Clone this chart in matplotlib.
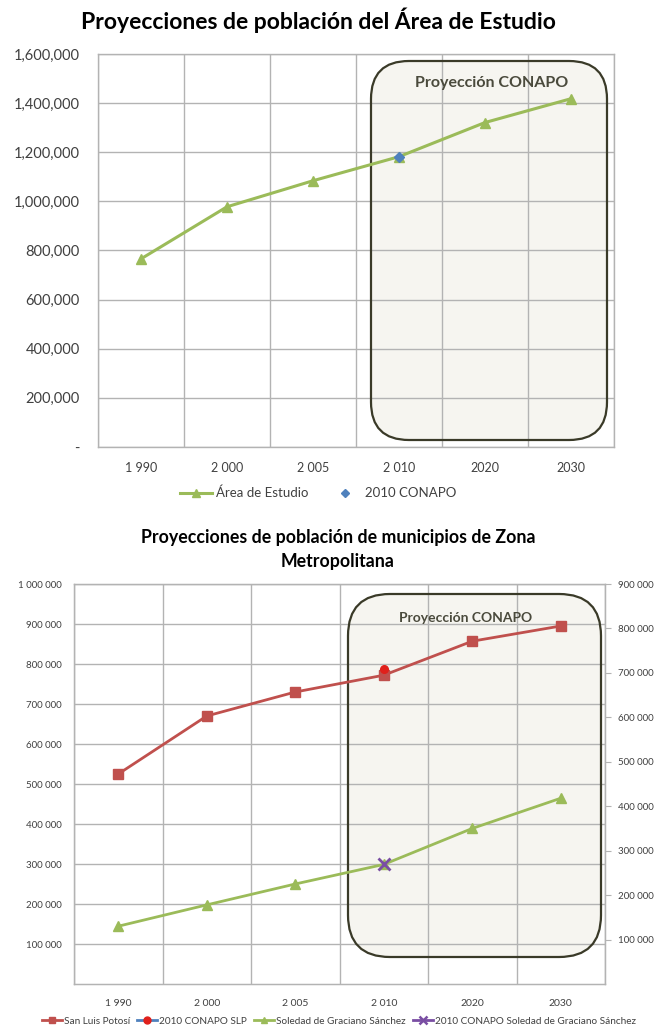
import matplotlib
matplotlib.use("Agg")
import matplotlib.pyplot as plt
from matplotlib.patches import FancyBboxPatch
from matplotlib.ticker import FuncFormatter, FixedLocator
from matplotlib.lines import Line2D

plt.rcParams['font.family'] = ['Lato', 'DejaVu Sans']

# ---- data: study area ----
years_top = ["1 990", "2 000", "2 005", "2 010", "2020", "2030"]
area_estudio = [766000, 978000, 1084000, 1182000, 1321000, 1418000]
conapo_2010_area = 1181000

# ---- data: metropolitan municipalities ----
years_bot = ["1 990", "2 000", "2 005", "2 010", "2020", "2030"]
san_luis = [525000, 670000, 730000, 772000, 857000, 895000]
conapo_2010_slp = 787000
soledad = [130000, 178000, 225000, 269000, 350000, 418000]
conapo_2010_soledad = 269000

GREEN = "#9bbb59"
RED = "#c0504d"
BLUE = "#4f81bd"
PURPLE = "#7a4ea3"
GRID = "#b3b3b3"
TXT = "#404040"
BOX_FILL = "#f6f5f0"
BOX_EDGE = "#3a3a28"

W, H = 654, 1029
fig = plt.figure(figsize=(W / 100, H / 100), dpi=100)


def ax_rect(left, top, right, bottom):
    return [left / W, 1 - bottom / H, (right - left) / W, (bottom - top) / H]


def rounded_box(ax, left, top, right, bottom, radius):
    # box drawn in inches so the corners stay circular
    x0, x1 = left / 100, right / 100
    y0, y1 = (H - bottom) / 100, (H - top) / 100
    fill = FancyBboxPatch((x0, y0), x1 - x0, y1 - y0,
                          boxstyle=f"round,pad=0,rounding_size={radius}",
                          transform=fig.dpi_scale_trans, facecolor=BOX_FILL,
                          edgecolor="none", zorder=0.3, clip_on=False)
    edge = FancyBboxPatch((x0, y0), x1 - x0, y1 - y0,
                          boxstyle=f"round,pad=0,rounding_size={radius}",
                          transform=fig.dpi_scale_trans, facecolor="none",
                          edgecolor=BOX_EDGE, linewidth=1.6, zorder=1.8,
                          clip_on=False)
    ax.add_patch(fill)
    ax.add_patch(edge)


def style_axes(ax, n):
    ax.set_xlim(-0.5, n - 0.5)
    ax.xaxis.set_major_locator(FixedLocator(range(n)))
    ax.xaxis.set_minor_locator(FixedLocator([i + 0.5 for i in range(-1, n)]))
    ax.grid(True, which="minor", axis="x", color=GRID, linewidth=1.0)
    ax.grid(True, which="major", axis="y", color=GRID, linewidth=1.0)
    ax.tick_params(axis="x", which="both", length=0)
    ax.tick_params(axis="y", length=0)
    for s in ax.spines.values():
        s.set_color(GRID)
        s.set_linewidth(1.0)


# ================= top chart =================
ax1 = fig.add_axes(ax_rect(98, 54, 614, 447))
n = len(years_top)
x = list(range(n))
style_axes(ax1, n)
ax1.set_ylim(0, 1600000)
ax1.set_yticks(range(0, 1600001, 200000))
ax1.yaxis.set_major_formatter(FuncFormatter(lambda v, p: "-" if v == 0 else f"{int(v):,}"))
ax1.set_xticks(x)
ax1.set_xticklabels(years_top)
ax1.tick_params(axis="y", labelsize=10.5, labelcolor=TXT, pad=13)
ax1.tick_params(axis="x", labelsize=9, labelcolor=TXT, pad=11)

rounded_box(ax1, 371, 61, 607, 440, 0.38)
ax1.text(492 / W, 1 - 83 / H, "Proyección CONAPO", transform=fig.transFigure,
         ha="center", va="center", fontsize=11.5, fontweight="bold", color="#4a4a3c")

ax1.plot(x, area_estudio, color=GREEN, linewidth=2.2, marker="^", markersize=7,
         zorder=3, label="Área de Estudio")
ax1.plot([3], [conapo_2010_area], linestyle="none", marker="D", markersize=5.5,
         color=BLUE, zorder=4, label="2010 CONAPO")

fig.text(318 / W, 1 - 20 / H, "Proyecciones de población del Área de Estudio",
         ha="center", va="center", fontsize=16.5, fontweight="bold", color="black")

fig.legend(handles=[
    Line2D([], [], color=GREEN, linewidth=2.2, marker="^", markersize=6),
    Line2D([], [], color=BLUE, linestyle="none", marker="D", markersize=4.5)],
    labels=["Área de Estudio", "2010 CONAPO"], loc="center",
    bbox_to_anchor=(318 / W, 1 - 493 / H), ncol=2, frameon=False,
    fontsize=9.5, labelcolor=TXT, handlelength=2.4, columnspacing=1.6,
    handletextpad=0.3)

# ================= bottom chart =================
ax2 = fig.add_axes(ax_rect(74, 584, 605, 984))
n2 = len(years_bot)
x2 = list(range(n2))
style_axes(ax2, n2)
ax2.set_ylim(0, 1000000)
ax2.set_yticks(range(100000, 1000001, 100000))
ax2.yaxis.set_major_formatter(FuncFormatter(lambda v, p: f"{int(v):,}".replace(",", " ")))
ax2.set_xticks(x2)
ax2.set_xticklabels(years_bot)
ax2.tick_params(axis="y", labelsize=7, labelcolor=TXT, pad=9)
ax2.tick_params(axis="x", labelsize=7.5, labelcolor=TXT, pad=11)

ax3 = ax2.twinx()
ax3.set_ylim(0, 900000)
ax3.set_yticks(range(100000, 900001, 100000))
ax3.yaxis.set_major_formatter(FuncFormatter(lambda v, p: f"{int(v):,}".replace(",", " ")))
ax3.tick_params(axis="y", labelsize=7, labelcolor=TXT, length=4, color=GRID, pad=5)
for s in ax3.spines.values():
    s.set_color(GRID)

rounded_box(ax2, 348, 594, 601, 957, 0.42)
fig.text(466 / W, 1 - 618 / H, "Proyección CONAPO", ha="center", va="center",
         fontsize=10, fontweight="bold", color="#4a4a3c", zorder=5)

ax2.plot(x2, san_luis, color=RED, linewidth=2.0, marker="s", markersize=6.5, zorder=3)
ax2.plot([3], [conapo_2010_slp], color=BLUE, marker="o", markersize=5.5,
         markerfacecolor="#e0201b", markeredgecolor="#e0201b", zorder=4)
ax3.plot(x2, soledad, color=GREEN, linewidth=2.0, marker="^", markersize=6.5, zorder=3)
ax3.plot([3], [conapo_2010_soledad], color=PURPLE, marker="x", markersize=8,
         markeredgewidth=2, zorder=4)

fig.text(338 / W, 1 - 537 / H, "Proyecciones de población de municipios de Zona",
         ha="center", va="center", fontsize=12.8, fontweight="bold", color="black")
fig.text(338 / W, 1 - 561 / H, "Metropolitana",
         ha="center", va="center", fontsize=12.8, fontweight="bold", color="black")

fig.legend(handles=[
    Line2D([], [], color=RED, linewidth=2, marker="s", markersize=5),
    Line2D([], [], color=BLUE, linewidth=2, marker="o", markersize=5,
           markerfacecolor="#e0201b", markeredgecolor="#e0201b"),
    Line2D([], [], color=GREEN, linewidth=2, marker="^", markersize=5),
    Line2D([], [], color=PURPLE, linewidth=2, marker="x", markersize=6, markeredgewidth=1.8)],
    labels=["San Luis Potosí", "2010 CONAPO SLP", "Soledad de Graciano Sánchez",
            "2010 CONAPO Soledad de Graciano Sánchez"], loc="center",
    bbox_to_anchor=(339 / W, 1 - 1021 / H), ncol=4, frameon=False,
    fontsize=7.2, labelcolor=TXT, handlelength=2.0, columnspacing=0.7,
    handletextpad=0.2)

fig.savefig("out.png", dpi=100, facecolor="white")
